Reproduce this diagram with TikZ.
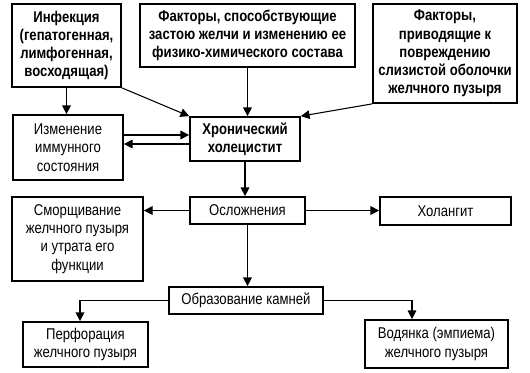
\documentclass[tikz,border=0pt]{standalone}
\usepackage{fontspec}
\setmainfont{Liberation Sans}[FakeStretch=0.84]
\usepackage{tikz}
\usetikzlibrary{arrows.meta,calc}

\begin{document}
\begin{tikzpicture}[x=.75pt,y=-.75pt,line cap=butt,line join=miter,
  box/.style={draw=black,line width=1.3pt,align=center,inner sep=0pt,
    font=\fontsize{11.7}{13.7}\selectfont},
  bold/.style={box,font=\fontsize{11.7}{13.7}\selectfont\bfseries},
  arr/.style={draw=black,line width=.8pt,-{Triangle[length=6.5pt,width=6.5pt]}}]
\useasboundingbox (0,0) rectangle (530,372);
% Causes.
\node[bold,minimum width=109*.75pt,minimum height=83*.75pt] (inf) at (66.5,45.5)
  {Инфекция\\(гепатогенная,\\лимфогенная,\\восходящая)};
\node[bold,minimum width=215*.75pt,minimum height=63*.75pt] (fac1) at (247.5,35.5)
  {Факторы, способствующие\\застою желчи и изменению ее\\физико-химического состава};
\node[bold,minimum width=144*.75pt,minimum height=99*.75pt] (fac2) at (445,53.5)
  {Факторы,\\приводящие к\\повреждению\\слизистой оболочки\\желчного пузыря};
\node[box,minimum width=110*.75pt,minimum height=65*.75pt] (imm) at (68,147.5)
  {Изменение\\иммунного\\состояния};
\node[bold,minimum width=110*.75pt,minimum height=44*.75pt] (chron) at (245,139)
  {Хронический\\холецистит};
\coordinate (immout) at ($(imm.east)+(0,-12.5)$);
\coordinate (immin) at ($(chron.west)+(0,5)$);
\draw[arr](inf.south)--(inf.south|-imm.north);
\draw[arr](inf.south east)--(chron.north west);
\draw[arr](fac1.south)--(fac1.south|-chron.north);
\draw[arr](fac2.south west)--(chron.north east);
\draw[arr](immout)--(immout-|chron.west);
\draw[arr](immin)--(immin-|imm.east);

% Complications.
\node[box,minimum width=115*.75pt,minimum height=27*.75pt] (compl) at (247.5,210.5)
  {Осложнения};
\node[box,minimum width=131*.75pt,minimum height=84*.75pt] (shrink) at (77.5,239)
  {Сморщивание\\желчного пузыря\\и утрата его\\функции};
\node[box,minimum width=131*.75pt,minimum height=28*.75pt] (chol) at (445.5,211)
  {Холангит};
\node[box,minimum width=154*.75pt,minimum height=27*.75pt] (stone) at (246,300.5)
  {Образование камней};
\node[box,minimum width=125*.75pt,minimum height=45*.75pt] (perf) at (85.5,344.5)
  {Перфорация\\желчного пузыря};
\node[box,minimum width=143*.75pt,minimum height=48*.75pt] (hydr) at (436.5,344)
  {Водянка (эмпиема)\\желчного пузыря};
\coordinate (perfin) at ($(perf.north)+(-5.5,0)$);
\coordinate (hydrin) at ($(hydr.north)+(-24.5,0)$);
\draw[arr](chron.south)--(chron.south|-compl.north);
\draw[arr](compl.west)--(compl.west-|shrink.east);
\draw[arr](compl.east)--(compl.east-|chol.west);
\draw[arr](compl.south)--(compl.south|-stone.north);
\draw[arr](stone.west)-|(perfin);
\draw[arr](stone.east)-|(hydrin);
\end{tikzpicture}
\end{document}
